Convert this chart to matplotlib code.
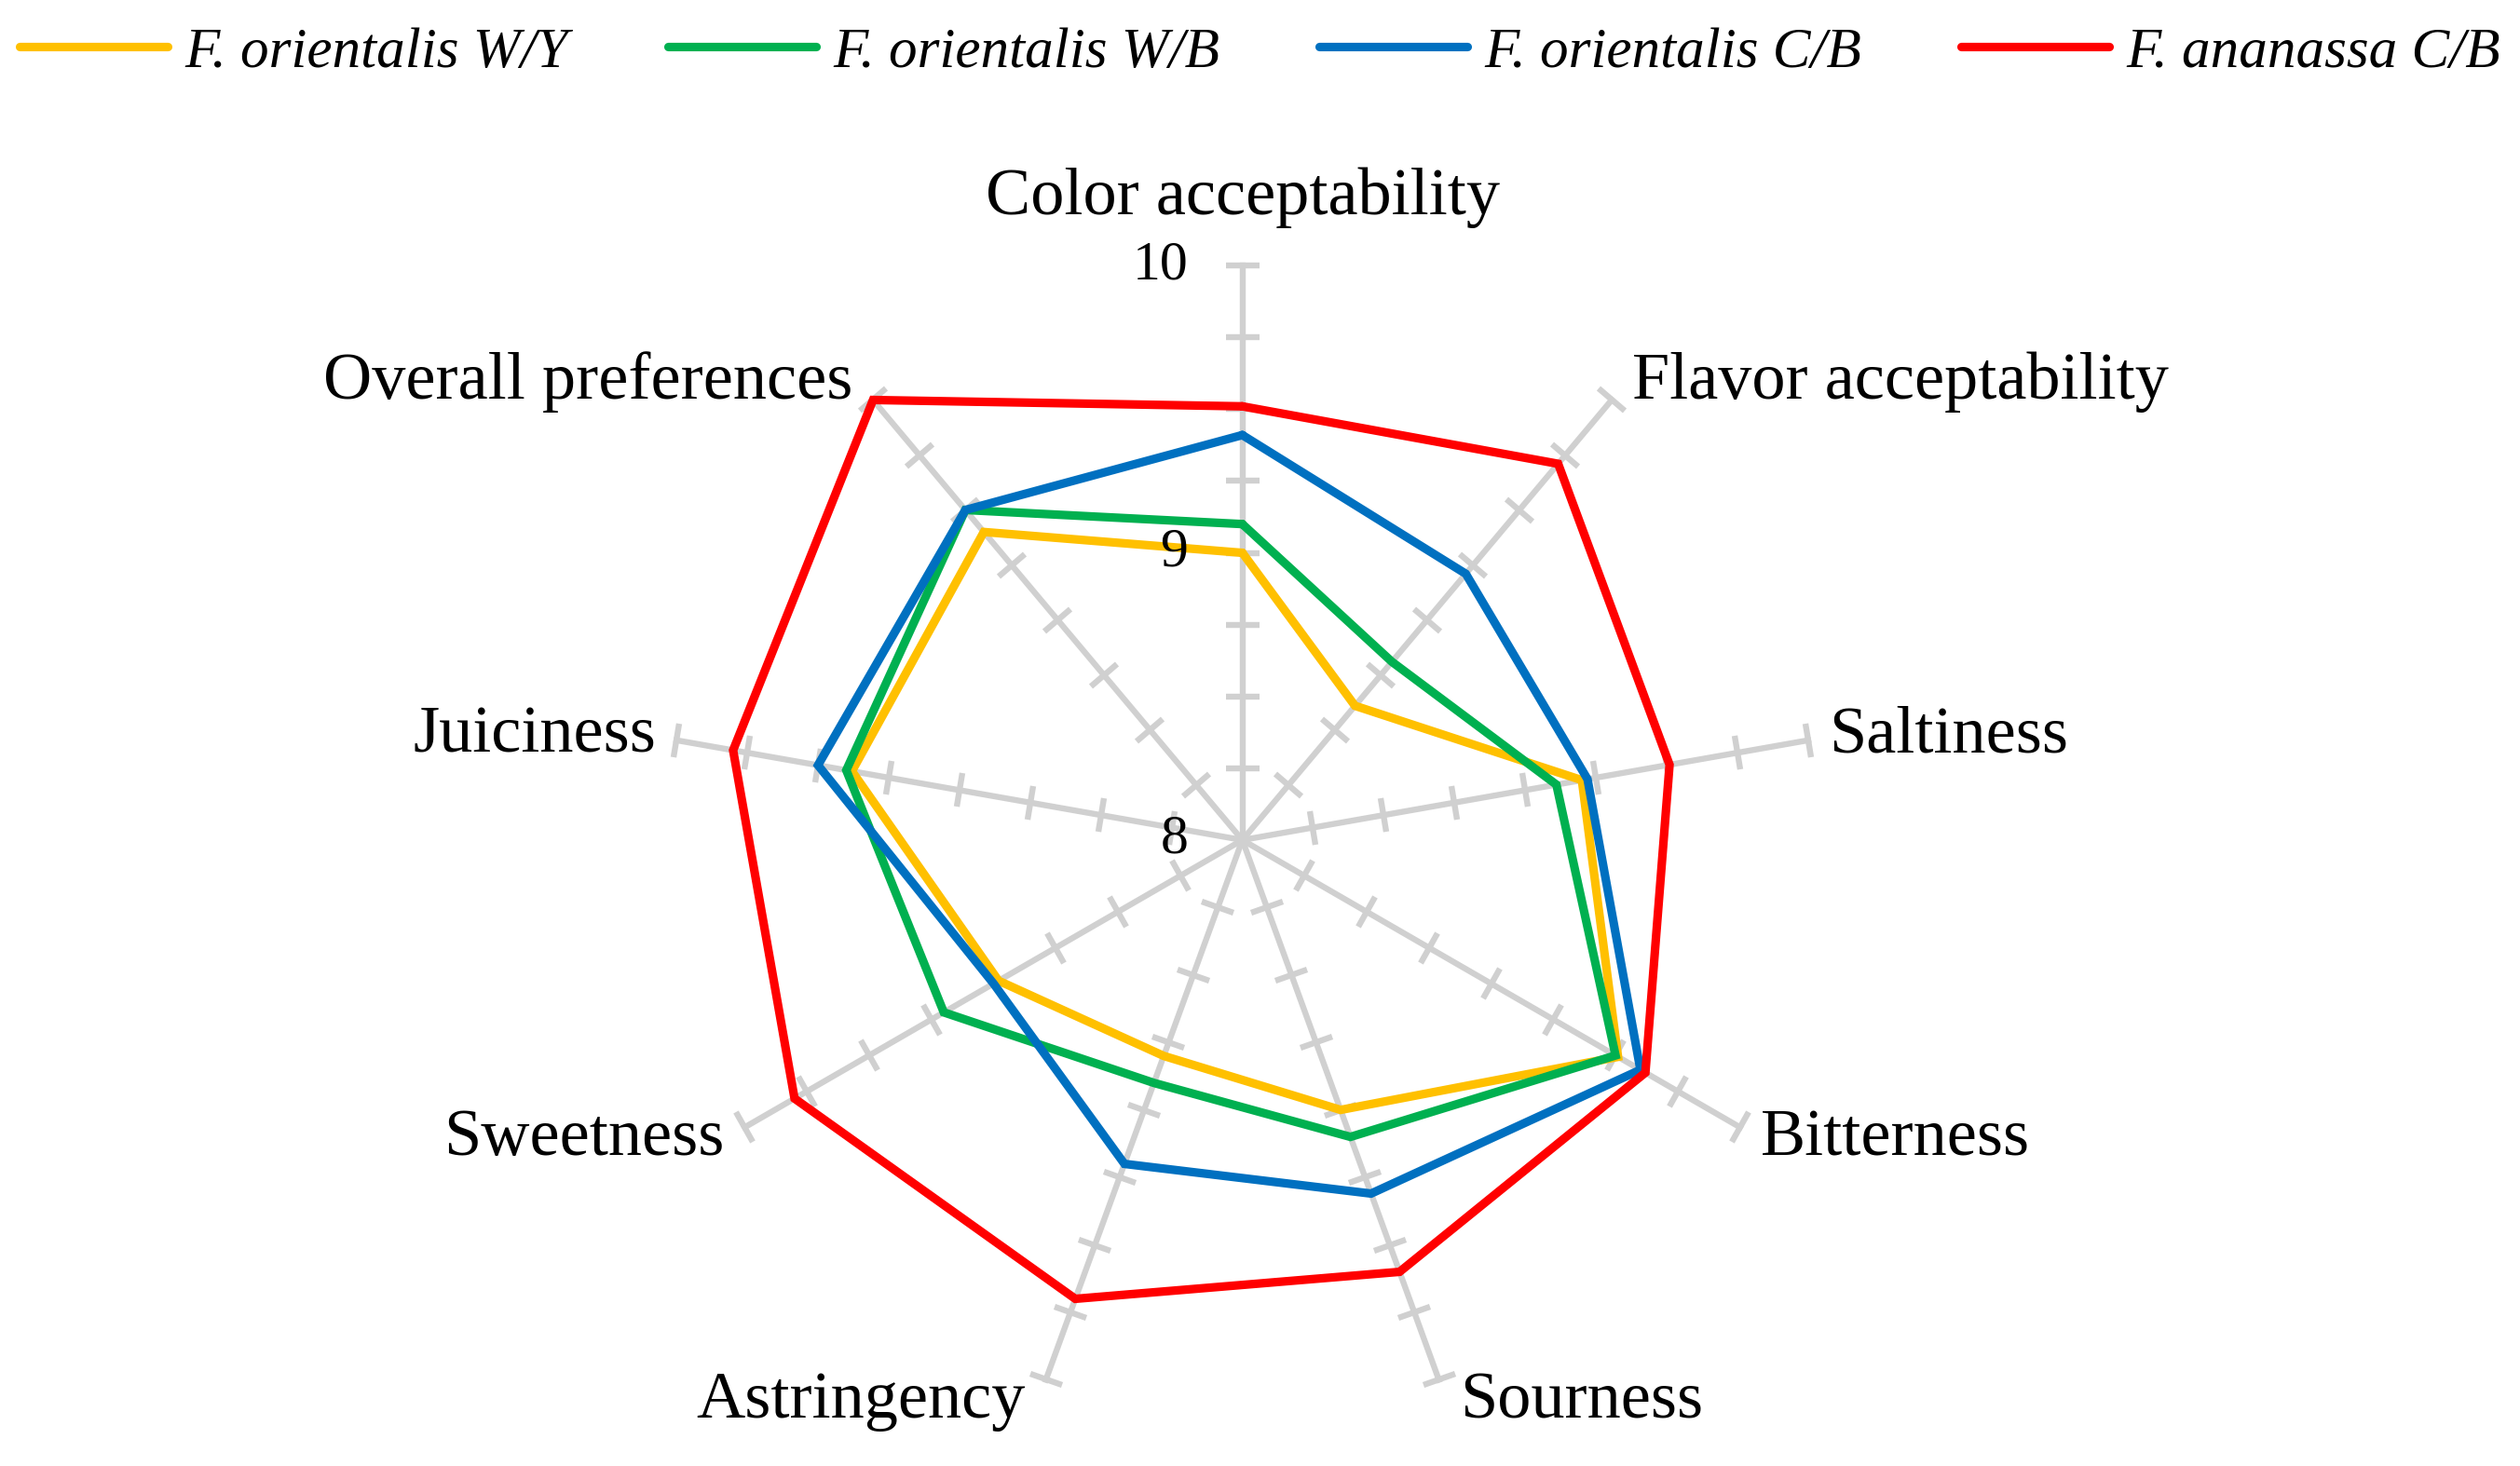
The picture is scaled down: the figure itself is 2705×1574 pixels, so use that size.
import numpy as np
import matplotlib
matplotlib.use("Agg")
import matplotlib.pyplot as plt
from matplotlib.markers import MarkerStyle
from matplotlib.transforms import Affine2D

# sensory scores
categories = ["Color acceptability", "Flavor acceptability", "Saltiness",
              "Bitterness", "Sourness", "Astringency", "Sweetness",
              "Juiciness", "Overall preferences"]
orientalis_wy = [9.00, 8.61, 9.20, 9.51, 9.00, 8.80, 8.98, 9.38, 9.40]
orientalis_wb = [9.10, 8.81, 9.11, 9.50, 9.10, 8.90, 9.20, 9.40, 9.50]
orientalis_cb = [9.41, 9.21, 9.22, 9.60, 9.31, 9.20, 9.00, 9.50, 9.50]
ananassa_cb = [9.51, 9.71, 9.51, 9.62, 9.60, 9.70, 9.80, 9.80, 10.00]
series_labels = ["F. orientalis W/Y", "F. orientalis W/B",
                 "F. orientalis C/B", "F. ananassa C/B"]
tick_labels = [8, 9, 10]

colors = ["#FFC000", "#00B050", "#0070C0", "#FF0000"]
grey = "#D0D0D0"

plt.rcParams["font.family"] = ["Liberation Serif", "DejaVu Serif"]

fig = plt.figure(figsize=(13.525, 7.87), dpi=200)
ax = fig.add_axes([0.265, 0.035, 0.456, 0.784], projection="polar")
ax.set_theta_offset(np.pi / 2)
ax.set_theta_direction(-1)
ax.set_ylim(8, 10)
ax.grid(False)
ax.spines["polar"].set_visible(False)
ax.set_xticks([])
ax.set_yticks([])

n = len(categories)
theta = np.arange(n) * 2 * np.pi / n

# spokes with small perpendicular tick marks every 0.25
minor_r = np.arange(8.25, 10.001, 0.25)
for t in theta:
    ax.plot([t, t], [8, 10], color=grey, lw=2.3, clip_on=False, zorder=1)
    ang = 90 - np.degrees(t)
    m = MarkerStyle("|", transform=Affine2D().rotate_deg(ang))
    ax.plot(np.full(len(minor_r), t), minor_r, ls="none", marker=m, ms=13,
            mew=2.3, color=grey, clip_on=False, zorder=1)

# data polygons
th = np.append(theta, theta[0])
for vals, lab, c in zip([orientalis_wy, orientalis_wb, orientalis_cb, ananassa_cb],
                        series_labels, colors):
    ax.plot(th, vals + vals[:1], color=c, lw=3.3, label=lab, clip_on=False,
            zorder=3, solid_joinstyle="miter", solid_capstyle="round")

# value labels on the vertical axis
for r in tick_labels:
    ax.annotate(str(r), xy=(0, r), xytext=(-21, 0), textcoords="offset points",
                ha="right", va="center", fontsize=21.5, annotation_clip=False)

# category labels at the ends of the spokes
for t, name in zip(theta, categories):
    s = np.sin(t)
    if abs(s) < 1e-6:
        ax.annotate(name, xy=(t, 10), xytext=(0, 20), textcoords="offset points",
                    ha="center", va="baseline", fontsize=26, annotation_clip=False)
    else:
        ax.annotate(name, xy=(t, 10), xytext=(8 * np.sign(s), 9 * np.cos(t)),
                    textcoords="offset points", ha="left" if s > 0 else "right",
                    va="center", fontsize=26, annotation_clip=False)

fig.legend(loc="center", bbox_to_anchor=(0.5, 0.964), ncol=4, frameon=False,
           prop={"style": "italic", "size": 22}, handlelength=2.6,
           handletextpad=0.3, columnspacing=1.75)

fig.savefig("out.png", dpi=200)
